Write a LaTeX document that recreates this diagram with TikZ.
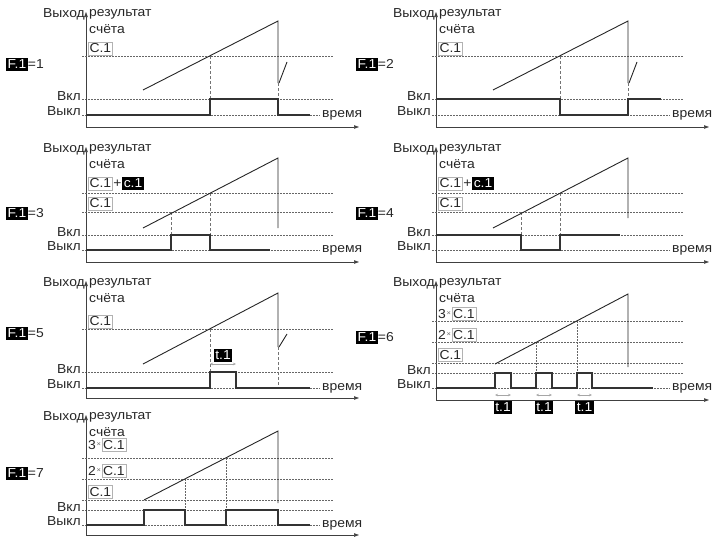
\documentclass[tikz,border=0pt]{standalone}
\usepackage{fontspec}
\setmainfont{Liberation Sans}[FakeStretch=1.07]
\usetikzlibrary{arrows.meta}
\tikzset{
 txt/.style={font=\fontsize{13}{15}\selectfont, inner sep=0pt, text=black!85},
 cbox/.style={txt, draw=black!30, line width=0.7pt, inner sep=1.2pt, minimum height=13pt},
 bbox/.style={txt, fill=black, text=white, inner sep=1.3pt, minimum height=13pt},
 timesx/.style={txt, font=\fontsize{7}{8}\selectfont, text=black!60, inner xsep=0.3pt},
 axisline/.style={line width=0.6pt, black!75, -{Triangle[length=5pt,width=3.5pt]}},
 dotln/.style={black!60, line width=0.55pt, dash pattern=on 1.5pt off 1.5pt},
 dashln/.style={black!55, line width=0.55pt, dash pattern=on 3pt off 2pt},
 rampln/.style={line width=0.9pt, black!85},
 outln/.style={line width=1.1pt, black!80},
 tarrow/.style={black!35, line width=0.45pt, {Stealth[length=3pt,width=2.5pt]}-{Stealth[length=3pt,width=2.5pt]}},
}
% #1 xshift, #2 top, #3 Vkl y, #4 Vykl y, #5 x-axis y, #6 prefix, #7 schyota y
\newcommand{\panelbase}[7]{%
 \draw[dotln] (82,#3) -- (333,#3);
 \draw[dotln] (82,#4) -- (320,#4);
 \draw[axisline] (86,#5) -- (86,#2);
 \draw[axisline] (86,#5) -- (359,#5);
 \node[txt, anchor=east] (#6vyh) at (85,#2+2) {Выход};
 \node[txt, anchor=west] (#6res) at (89,#2+2) {результат};
 \node[txt, anchor=west] (#6sch) at (89,#7) {счёта};
 \node[txt, anchor=base east] (#6on) at (81,#3+1) {Вкл};
 \node[txt, anchor=base east] (#6off) at (81,#4) {Выкл};
 \node[txt, anchor=west] (#6time) at (322,#4) {время};
}
\newcommand{\flabel}[4]{% prefix, x, y, number
 \node[bbox] (#1f) at (#2,#3) {F.1};
 \node[txt, anchor=west] (#1feq) at (#1f.east) {=#4};
}
\begin{document}
\begin{tikzpicture}[x=1pt,y=-1pt]
\useasboundingbox (0,0) rectangle (715,538);

% ---------------- Panel 1
\begin{scope}
\panelbase{0}{12}{99}{115}{127}{pa}{29}
\flabel{pa}{17}{64}{1}
\node[cbox, anchor=west] (pac) at (88,48.5) {C.1};
\draw[dotln] (82,56) -- (333,56);
\draw[dashln] (210,56) -- (210,115);
\draw[dashln] (278,83) -- (278,115);
\draw[rampln] (143,90) -- (278,21) -- (278,83);
\draw[rampln] (279,83) -- (287,62);
\draw[outln] (86,115) -- (210,115) -- (210,99) -- (278,99) -- (278,115) -- (310,115);
\end{scope}

% ---------------- Panel 2
\begin{scope}[xshift=350]
\panelbase{350}{12}{99}{115}{127}{pb}{29}
\flabel{pb}{17}{64}{2}
\node[cbox, anchor=west] (pbc) at (88,48.5) {C.1};
\draw[dotln] (82,56) -- (333,56);
\draw[dashln] (210,56) -- (210,115);
\draw[dashln] (278,83) -- (278,115);
\draw[rampln] (143,90) -- (278,21) -- (278,83);
\draw[rampln] (279,83) -- (287,62);
\draw[outln] (86,99) -- (210,99) -- (210,115) -- (278,115) -- (278,99) -- (311,99);
\end{scope}

% ---------------- Panel 3
\begin{scope}
\panelbase{0}{147}{235}{250}{262}{pc}{164}
\flabel{pc}{17}{213}{3}
\node[cbox, anchor=west] (pcc1) at (88,183.5) {C.1};
\node[txt, anchor=west, inner xsep=0.5pt] (pcplus) at (pcc1.east) {+};
\node[bbox, anchor=west] (pccc) at (pcplus.east) {c.1};
\node[cbox, anchor=west] (pcc2) at (88,203.5) {C.1};
\draw[dotln] (82,193) -- (333,193);
\draw[dotln] (82,212) -- (333,212);
\draw[dashln] (171,212) -- (171,250);
\draw[dashln] (210,193) -- (210,250);
\draw[rampln] (143,228) -- (278,158) -- (278,228);
\draw[outln] (86,250) -- (171,250) -- (171,235) -- (210,235) -- (210,250) -- (270,250);
\end{scope}

% ---------------- Panel 4
\begin{scope}[xshift=350]
\panelbase{350}{147}{235}{250}{262}{pd}{164}
\flabel{pd}{17}{213}{4}
\node[cbox, anchor=west] (pdc1) at (88,183.5) {C.1};
\node[txt, anchor=west, inner xsep=0.5pt] (pdplus) at (pdc1.east) {+};
\node[bbox, anchor=west] (pdcc) at (pdplus.east) {c.1};
\node[cbox, anchor=west] (pdc2) at (88,203.5) {C.1};
\draw[dotln] (82,193) -- (333,193);
\draw[dotln] (82,212) -- (333,212);
\draw[dashln] (171,212) -- (171,250);
\draw[dashln] (210,193) -- (210,250);
\draw[rampln] (143,228) -- (278,158) -- (278,218);
\draw[outln] (86,235) -- (171,235) -- (171,250) -- (210,250) -- (210,235) -- (270,235);
\end{scope}

% ---------------- Panel 5
\begin{scope}
\panelbase{0}{281}{372}{388}{398}{pe}{298}
\flabel{pe}{17}{333}{5}
\node[cbox, anchor=west] (pec) at (88,321.5) {C.1};
\draw[dotln] (82,329) -- (333,329);
\draw[dashln] (210,329) -- (210,388);
\draw[dashln] (278,347) -- (278,388);
\draw[rampln] (143,364) -- (278,293) -- (278,347);
\draw[rampln] (279,347) -- (287,334);
\draw[outln] (86,388) -- (210,388) -- (210,372) -- (236,372) -- (236,388) -- (310,388);
\node[bbox] (pet) at (223,355) {t.1};
\coordinate (pea) at (210,364);
\coordinate (peb) at (236,364);
\draw[tarrow] (pea) -- (peb);
\end{scope}

% ---------------- Panel 6
\begin{scope}[xshift=350]
\panelbase{350}{281}{373}{388}{400}{pf}{298}
\flabel{pf}{17}{337}{6}
\node[txt, anchor=west] (pf3) at (88,314) {3};
\node[timesx, anchor=west] (pfx3) at (pf3.east) {×};
\node[cbox, anchor=west] (pfc3) at (pfx3.east) {C.1};
\node[txt, anchor=west] (pf2) at (88,335) {2};
\node[timesx, anchor=west] (pfx2) at (pf2.east) {×};
\node[cbox, anchor=west] (pfc2) at (pfx2.east) {C.1};
\node[cbox, anchor=west] (pfc1) at (88,355) {C.1};
\draw[dotln] (82,321) -- (333,321);
\draw[dotln] (82,342) -- (333,342);
\draw[dotln] (82,363) -- (333,363);
\draw[dotln] (186,342) -- (186,373);
\draw[dotln] (227,321) -- (227,373);
\draw[rampln] (145,364) -- (278,294) -- (278,367);
\draw[outln] (86,388) -- (145,388) -- (145,373) -- (161,373) -- (161,388)
  -- (186,388) -- (186,373) -- (202,373) -- (202,388)
  -- (227,388) -- (227,373) -- (242,373) -- (242,388) -- (303,388);
\coordinate (pfa1) at (145,395); \coordinate (pfb1) at (161,395);
\coordinate (pfa2) at (186,395); \coordinate (pfb2) at (202,395);
\coordinate (pfa3) at (227,395); \coordinate (pfb3) at (242,395);
\draw[tarrow] (pfa1) -- (pfb1);
\draw[tarrow] (pfa2) -- (pfb2);
\draw[tarrow] (pfa3) -- (pfb3);
\node[bbox] (pft1) at (153,407) {t.1};
\node[bbox] (pft2) at (194,407) {t.1};
\node[bbox] (pft3) at (234.5,407) {t.1};
\end{scope}

% ---------------- Panel 7
\begin{scope}
\panelbase{0}{415}{510}{525}{535}{pg}{432}
\flabel{pg}{17}{473}{7}
\node[txt, anchor=west] (pg3) at (88,445) {3};
\node[timesx, anchor=west] (pgx3) at (pg3.east) {×};
\node[cbox, anchor=west] (pgc3) at (pgx3.east) {C.1};
\node[txt, anchor=west] (pg2) at (88,471) {2};
\node[timesx, anchor=west] (pgx2) at (pg2.east) {×};
\node[cbox, anchor=west] (pgc2) at (pgx2.east) {C.1};
\node[cbox, anchor=west] (pgc1) at (88,492) {C.1};
\draw[dotln] (82,458) -- (333,458);
\draw[dotln] (82,479) -- (333,479);
\draw[dotln] (82,500) -- (333,500);
\draw[dotln] (185,479) -- (185,525);
\draw[dotln] (226,458) -- (226,525);
\draw[rampln] (144,500) -- (278,431) -- (278,503);
\draw[outln] (86,525) -- (144,525) -- (144,510) -- (185,510) -- (185,525)
  -- (226,525) -- (226,510) -- (278,510) -- (278,525) -- (310,525);
\end{scope}
\end{tikzpicture}
\end{document}
